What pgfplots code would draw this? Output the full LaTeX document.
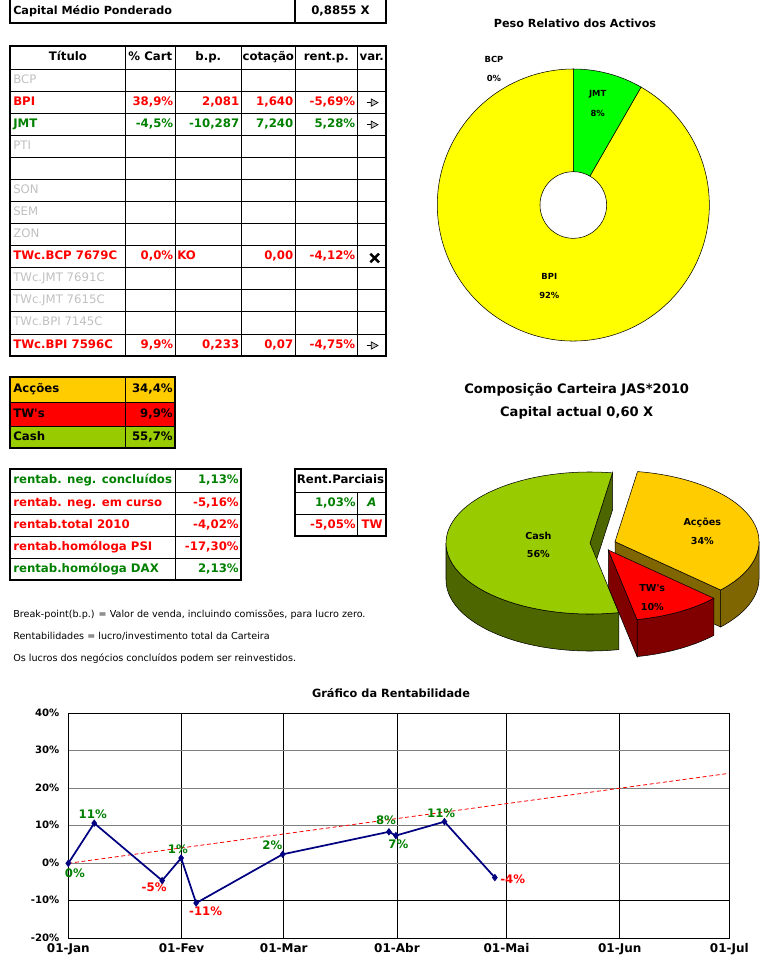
\documentclass[border=0pt]{standalone}
\usepackage{pgfplots}
\pgfplotsset{compat=1.18}
\usepackage{fontspec}
\setmainfont{DejaVu Sans}
\definecolor{xred}{HTML}{FF0000}
\definecolor{xgreen}{HTML}{008000}
\definecolor{xgrey}{HTML}{C0C0C0}
\definecolor{navy}{HTML}{000080}
\definecolor{gold}{HTML}{FFCC00}
\definecolor{lime}{HTML}{99CC00}
\definecolor{goldside}{HTML}{806600}
\definecolor{limeside}{HTML}{4D6600}
\definecolor{redside}{HTML}{800000}
\definecolor{jmtc}{HTML}{00FF00}
\definecolor{bpic}{HTML}{FFFF00}
\definecolor{gridgrey}{HTML}{808080}
\newcommand\fz[1]{\fontsize{#1}{#1}\selectfont}
% pie data
\def\pAcc{34.4}\def\pTW{9.9}\def\pCash{55.7}
\def\pJMT{8.3}
\def\start{81}
\pgfmathsetmacro\aAend{\start-360*\pAcc/100}
\pgfmathsetmacro\aTend{\aAend-360*\pTW/100}
\pgfmathsetmacro\aCe{\aTend+360}
\pgfmathsetmacro\aJ{90-360*\pJMT/100}
\pgfmathsetmacro\aJb{\aJ+360}
\def\ra{108pt}\def\rb{53.25pt}\def\dd{27.75pt}
\newcommand\arr[1]{%
  \draw[line width=0.6pt] (366.7,#1)--(371.3,#1);
  \filldraw[fill=xgrey,draw=black,line width=0.5pt] (371.3,#1-3.6)--(378,#1)--(371.3,#1+3.6)--cycle;}
\begin{document}
\begin{tikzpicture}[
  tb/.style={font=\fz{8.8}\bfseries,text height=6.5pt,text depth=1.9pt,inner sep=0pt},
  tg/.style={font=\fz{8.8},text=xgrey,text height=6.5pt,text depth=1.9pt,inner sep=0pt},
  thin line/.style={line width=0.6pt},
  thick line/.style={line width=1.4pt}]
\useasboundingbox (0,0) rectangle (571.5pt,-726.75pt);
\begin{scope}[x=0.75pt,y=-0.75pt]
% ---- top box
\draw[thick line] (10,0)--(10,22.7)--(386,22.7)--(386,0);
\draw[thick line] (295,0)--(295,22.7);
\node[tb,anchor=west,font=\fz{8.4}\bfseries] at (13,11) {Capital Médio Ponderado};
\node[tb] at (340.5,11) {0,8855 X};
% ---- main table
\foreach \y in {69,91.08,113.15,135.23,157.31,179.38,201.46,223.54,245.62,267.69,289.77,311.85,333.92}
  \draw[thin line] (10,\y)--(386,\y);
\foreach \x in {125.3,175.3,241.3,295.3,357.3}
  \draw[thin line] (\x,46)--(\x,356);
\draw[thick line] (10,46) rectangle (386,356);
\node[tb] at (68,57.5) {Título};
\node[tb] at (150.3,57.5) {\% Cart};
\node[tb] at (208.3,57.5) {b.p.};
\node[tb] at (268.3,57.5) {cotação};
\node[tb] at (326.3,57.5) {rent.p.};
\node[tb] at (371.7,57.5) {var.};
\node[tg,anchor=west] at (13,80) {BCP};
\node[tb,text=xred,anchor=west] at (13,102.1) {BPI};
\node[tb,text=xred,anchor=east] at (173.5,102.1) {38,9\%};
\node[tb,text=xred,anchor=east] at (239.5,102.1) {2,081};
\node[tb,text=xred,anchor=east] at (293.5,102.1) {1,640};
\node[tb,text=xred,anchor=east] at (355.5,102.1) {-5,69\%};
\arr{102.6}
\node[tb,text=xgreen,anchor=west] at (13,124.2) {JMT};
\node[tb,text=xgreen,anchor=east] at (173.5,124.2) {-4,5\%};
\node[tb,text=xgreen,anchor=east] at (239.5,124.2) {-10,287};
\node[tb,text=xgreen,anchor=east] at (293.5,124.2) {7,240};
\node[tb,text=xgreen,anchor=east] at (355.5,124.2) {5,28\%};
\arr{124.7}
\node[tg,anchor=west] at (13,146.3) {PTI};
\node[tg,anchor=west] at (13,190.4) {SON};
\node[tg,anchor=west] at (13,212.5) {SEM};
\node[tg,anchor=west] at (13,234.6) {ZON};
\node[tb,text=xred,anchor=west] at (13,256.7) {TWc.BCP 7679C};
\node[tb,text=xred,anchor=east] at (173.5,256.7) {0,0\%};
\node[tb,text=xred,anchor=west] at (177,256.7) {KO};
\node[tb,text=xred,anchor=east] at (293.5,256.7) {0,00};
\node[tb,text=xred,anchor=east] at (355.5,256.7) {-4,12\%};
\draw[line width=1.9pt] (370.3,253.7)--(379,262.3) (370.3,262.3)--(379,253.7);
\node[tg,anchor=west] at (13,278.8) {TWc.JMT 7691C};
\node[tg,anchor=west] at (13,300.9) {TWc.JMT 7615C};
\node[tg,anchor=west] at (13,322.9) {TWc.BPI 7145C};
\node[tb,text=xred,anchor=west] at (13,345) {TWc.BPI 7596C};
\node[tb,text=xred,anchor=east] at (173.5,345) {9,9\%};
\node[tb,text=xred,anchor=east] at (239.5,345) {0,233};
\node[tb,text=xred,anchor=east] at (293.5,345) {0,07};
\node[tb,text=xred,anchor=east] at (355.5,345) {-4,75\%};
\arr{345.5}
% ---- composition table
\fill[gold] (10,377.3) rectangle (175,402.3);
\fill[xred] (10,402.3) rectangle (175,426);
\fill[lime] (10,426) rectangle (175,448.3);
\draw[thin line] (10,402.3)--(175,402.3) (10,426)--(175,426) (125.7,377.3)--(125.7,448.3);
\draw[thick line] (10,377.3) rectangle (175,448.3);
\node[tb,anchor=west] at (13,389.8) {Acções};
\node[tb,anchor=east] at (173,389.8) {34,4\%};
\node[tb,anchor=west] at (13,414.2) {TW\textquotesingle s};
\node[tb,anchor=east] at (173,414.2) {9,9\%};
\node[tb,anchor=west] at (13,437.2) {Cash};
\node[tb,anchor=east] at (173,437.2) {55,7\%};
% ---- rentab table
\foreach \y in {492,514.3,536.3,558.7} \draw[thin line] (10,\y)--(241,\y);
\draw[thin line] (175.7,469.3)--(175.7,580.3);
\draw[thick line] (10,469.3) rectangle (241,580.3);
\node[tb,text=xgreen,anchor=west] at (13,480.7) {rentab. neg. concluídos};
\node[tb,text=xgreen,anchor=east] at (239,480.7) {1,13\%};
\node[tb,text=xred,anchor=west] at (13,503.2) {rentab. neg. em curso};
\node[tb,text=xred,anchor=east] at (239,503.2) {-5,16\%};
\node[tb,text=xred,anchor=west] at (13,525.3) {rentab.total 2010};
\node[tb,text=xred,anchor=east] at (239,525.3) {-4,02\%};
\node[tb,text=xred,anchor=west] at (13,547.5) {rentab.homóloga PSI};
\node[tb,text=xred,anchor=east] at (239,547.5) {-17,30\%};
\node[tb,text=xgreen,anchor=west] at (13,569.5) {rentab.homóloga DAX};
\node[tb,text=xgreen,anchor=east] at (239,569.5) {2,13\%};
% ---- rent parciais
\draw[thin line] (295,492)--(386,492) (295,514.3)--(386,514.3) (357.7,492)--(357.7,535.7);
\draw[thick line] (295,469.3) rectangle (386,535.7);
\node[tb] at (340.5,480.7) {Rent.Parciais};
\node[tb,text=xgreen,anchor=east] at (356,503.2) {1,03\%};
\node[tb,text=xgreen,font=\fz{8.8}\bfseries\itshape] at (372,503.2) {A};
\node[tb,text=xred,anchor=east] at (356,525) {-5,05\%};
\node[tb,text=xred] at (372,525) {TW};
% ---- notes
\node[anchor=west,font=\fz{7.2},inner sep=0pt] at (13,614.3) {Break-point(b.p.) = Valor de venda, incluindo comissões, para lucro zero.};
\node[anchor=west,font=\fz{7.2},inner sep=0pt] at (13,636.7) {Rentabilidades = lucro/investimento total da Carteira};
\node[anchor=west,font=\fz{7.2},inner sep=0pt] at (13,658.3) {Os lucros dos negócios concluídos podem ser reinvestidos.};
% ---- titles
\node[font=\fz{8.4}\bfseries] at (575,23.3) {Peso Relativo dos Activos};
\node[font=\fz{9.8}\bfseries] at (576.7,389.3) {Composição Carteira JAS*2010};
\node[font=\fz{9.8}\bfseries] at (576.7,412.7) {Capital actual 0,60 X};
\node[font=\fz{8.5}\bfseries] at (391,692.7) {Gráfico da Rentabilidade};
\end{scope}
% ================= pies (overlay axis in pixel units)
\begin{axis}[at={(0pt,0pt)},anchor=north west,scale only axis,
  width=571.5pt,height=726.75pt,xmin=0,xmax=762,ymin=0,ymax=969,
  y dir=reverse,hide axis,clip=false]
% donut
\coordinate (D) at (axis cs:573.3,205);
\filldraw[fill=bpic,line width=0.4pt] ([shift={(\aJ:102pt)}]D) arc[start angle=\aJ,end angle=-270,radius=102pt]
  -- ([shift={(90:25pt)}]D) arc[start angle=90,end angle=\aJb,radius=25pt] -- cycle;
\filldraw[fill=jmtc,line width=0.4pt] ([shift={(90:102pt)}]D) arc[start angle=90,end angle=\aJ,radius=102pt]
  -- ([shift={(\aJ:25pt)}]D) arc[start angle=\aJ,end angle=90,radius=25pt] -- cycle;
\node[font=\fz{6.3}\bfseries] at (axis cs:597.7,94.3) {JMT};
\node[font=\fz{6.3}\bfseries] at (axis cs:597.7,113.3) {8\%};
\node[font=\fz{6.3}\bfseries] at (axis cs:549.3,276) {BPI};
\node[font=\fz{6.3}\bfseries] at (axis cs:549.3,295) {92\%};
\node[font=\fz{6.3}\bfseries] at (axis cs:494,59.3) {BCP};
\node[font=\fz{6.3}\bfseries] at (axis cs:494,78.3) {0\%};
% 3D pie
\coordinate (CC) at (axis cs:590,543);
\coordinate (CA) at (axis cs:615,541.7);
\coordinate (CT) at (axis cs:608.3,550);
% Cash
\filldraw[fill=limeside,line width=0.4pt] ([shift={(180:108pt and 53.25pt)}]CC) arc[start angle=180,end angle=\aCe,x radius=\ra,y radius=\rb]
  -- ++(0,-\dd) arc[start angle=\aCe,end angle=180,x radius=\ra,y radius=\rb] -- cycle;
\filldraw[fill=limeside,line width=0.4pt] (CC) -- ([shift={(\start:108pt and 53.25pt)}]CC) -- ++(0,-\dd) -- ([shift={(0,-\dd)}]CC) -- cycle;
\filldraw[fill=lime,line width=0.4pt] (CC) -- ([shift={(\start:108pt and 53.25pt)}]CC) arc[start angle=\start,end angle=\aCe,x radius=\ra,y radius=\rb] -- cycle;
% Accoes
\filldraw[fill=goldside,line width=0.4pt] ([shift={(\aAend:108pt and 53.25pt)}]CA) arc[start angle=\aAend,end angle=0,x radius=\ra,y radius=\rb]
  -- ++(0,-\dd) arc[start angle=0,end angle=\aAend,x radius=\ra,y radius=\rb] -- cycle;
\filldraw[fill=goldside,line width=0.4pt] (CA) -- ([shift={(\aAend:108pt and 53.25pt)}]CA) -- ++(0,-\dd) -- ([shift={(0,-\dd)}]CA) -- cycle;
\filldraw[fill=gold,line width=0.4pt] (CA) -- ([shift={(\aAend:108pt and 53.25pt)}]CA) arc[start angle=\aAend,end angle=\start,x radius=\ra,y radius=\rb] -- cycle;
% TW's
\filldraw[fill=redside,line width=0.4pt] ([shift={(\aTend:108pt and 53.25pt)}]CT) arc[start angle=\aTend,end angle=\aAend,x radius=\ra,y radius=\rb]
  -- ++(0,-\dd) arc[start angle=\aAend,end angle=\aTend,x radius=\ra,y radius=\rb] -- cycle;
\filldraw[fill=redside,line width=0.4pt] (CT) -- ([shift={(\aTend:108pt and 53.25pt)}]CT) -- ++(0,-\dd) -- ([shift={(0,-\dd)}]CT) -- cycle;
\filldraw[fill=xred,line width=0.4pt] (CT) -- ([shift={(\aTend:108pt and 53.25pt)}]CT) arc[start angle=\aTend,end angle=\aAend,x radius=\ra,y radius=\rb] -- cycle;
\node[font=\fz{7.2}\bfseries] at (axis cs:538.3,535.7) {Cash};
\node[font=\fz{7.2}\bfseries] at (axis cs:538.3,554) {56\%};
\node[font=\fz{7.2}\bfseries] at (axis cs:702.3,522.3) {Acções};
\node[font=\fz{7.2}\bfseries] at (axis cs:702.3,540.7) {34\%};
\node[font=\fz{7.2}\bfseries] at (axis cs:652.3,588.3) {TW\textquotesingle s};
\node[font=\fz{7.2}\bfseries] at (axis cs:652.3,606.7) {10\%};
\end{axis}
% ================= line chart
\begin{axis}[at={(51.225pt,-703.725pt)},anchor=south west,scale only axis,
  width=495.75pt,height=168.75pt,
  xmin=0,xmax=181,ymin=-20,ymax=40,
  xtick={0,31,59,90,120,151,181},
  xticklabels={01-Jan,01-Fev,01-Mar,01-Abr,01-Mai,01-Jun,01-Jul},
  ytick={-20,0,10,20,30,40},
  yticklabels={-20\%,0\%,10\%,20\%,30\%,40\%},
  extra y ticks={-10},extra y tick labels={-10\%},
  extra y tick style={ymajorgrids=true,major y grid style={black,line width=0.6pt}},
  xmajorgrids,ymajorgrids,
  major x grid style={black,line width=0.6pt},
  major y grid style={gridgrey,line width=0.6pt},
  axis line style={black,line width=0.8pt},
  major tick length=0pt,
  x tick label style={font=\fz{9}\bfseries,inner sep=0.5pt,yshift=-3.2pt},
  y tick label style={font=\fz{7.6}\bfseries,inner sep=0.5pt,xshift=-6pt,yshift=0.6pt},
  clip=false]
\addplot[xred,densely dashed,line width=0.6pt] coordinates {(0,0) (181,24)};
\addplot[navy,line width=1.3pt,mark=diamond*,mark size=1.8pt,mark options={solid}] coordinates {
(0,0) (7.1,10.7) (25.7,-4.6) (30.9,1.4) (35,-10.6) (58.7,2.4) (87.8,8.4) (89.7,7.4) (103,11.1) (116.8,-3.8)};
\node[font=\fz{8.8}\bfseries,text=xgreen] at (axis cs:1.8,-2.7) {0\%};
\node[font=\fz{8.8}\bfseries,text=xgreen] at (axis cs:6.7,13.1) {11\%};
\node[font=\fz{8.8}\bfseries,text=xred] at (axis cs:23.5,-6.5) {-5\%};
\node[font=\fz{8.8}\bfseries,text=xgreen] at (axis cs:30.0,3.8) {1\%};
\node[font=\fz{8.8}\bfseries,text=xred] at (axis cs:37.6,-12.7) {-11\%};
\node[font=\fz{8.8}\bfseries,text=xgreen] at (axis cs:55.9,4.7) {2\%};
\node[font=\fz{8.8}\bfseries,text=xgreen] at (axis cs:87.0,11.5) {8\%};
\node[font=\fz{8.8}\bfseries,text=xgreen] at (axis cs:90.4,5.1) {7\%};
\node[font=\fz{8.8}\bfseries,text=xgreen] at (axis cs:102.1,13.3) {11\%};
\node[font=\fz{8.8}\bfseries,text=xred] at (axis cs:121.7,-4.3) {-4\%};
\end{axis}
\end{tikzpicture}
\end{document}
